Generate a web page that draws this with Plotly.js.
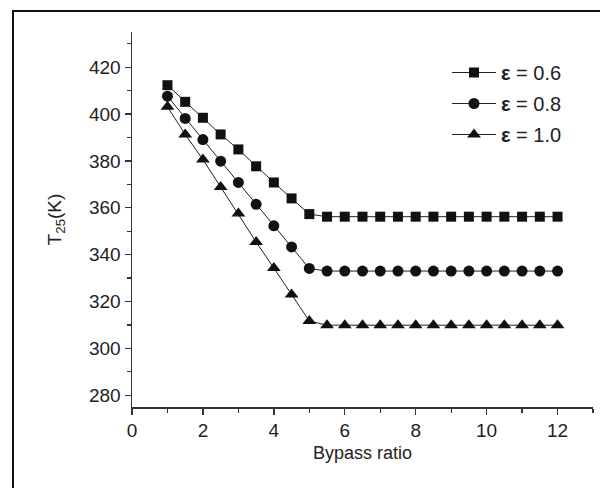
<!DOCTYPE html>
<html>
<head>
<meta charset="utf-8">
<script src="https://cdn.plot.ly/plotly-3.0.1.min.js"></script>
<style>html,body{margin:0;padding:0;background:#fff;overflow:hidden;}#chart{width:609px;height:488px;}</style>
</head>
<body>
<div id="chart"></div>
<script>
const bypassRatio = [1, 1.5, 2, 2.5, 3, 3.5, 4, 4.5, 5, 5.5, 6, 6.5, 7, 7.5, 8, 8.5, 9, 9.5, 10, 10.5, 11, 11.5, 12];
const t25_eps06 = [412.3, 405.2, 398.4, 391.3, 384.9, 377.7, 370.8, 364.0, 357.3, 356.2, 356.2, 356.2, 356.2, 356.2, 356.2, 356.2, 356.2, 356.2, 356.2, 356.2, 356.2, 356.2, 356.2];
const t25_eps08 = [407.6, 398.1, 389.1, 379.9, 370.8, 361.5, 352.3, 343.3, 334.1, 333.0, 333.0, 333.0, 333.0, 333.0, 333.0, 333.0, 333.0, 333.0, 333.0, 333.0, 333.0, 333.0, 333.0];
const t25_eps10 = [403.1, 391.3, 380.6, 368.9, 357.6, 345.4, 334.3, 323.0, 311.7, 309.9, 309.9, 309.9, 309.9, 309.9, 309.9, 309.9, 309.9, 309.9, 309.9, 309.9, 309.9, 309.9, 309.9];
const seriesNames = ['<b>ε</b> = 0.6', '<b>ε</b> = 0.8', '<b>ε</b> = 1.0'];
const xTicks = [0, 2, 4, 6, 8, 10, 12];
const yTicks = [280, 300, 320, 340, 360, 380, 400, 420];

const FONT = 'Liberation Sans, Arial, Helvetica, sans-serif';
const symbols = ['square', 'circle', 'triangle-up'];
const sizes = [10, 11, 12];
const ys = [t25_eps06, t25_eps08, t25_eps10];

const traces = ys.map((y, i) => ({
  x: bypassRatio, y: y, type: 'scatter', mode: 'lines+markers',
  name: seriesNames[i], legendgroup: 'g' + i,
  line: {color: '#222', width: 1},
  marker: {symbol: symbols[i], size: sizes[i], color: '#111'}
}));

const L = 132, R = 16, T = 32, B = 81, W = 609, H = 488;
const pw = W - L - R, ph = H - T - B;
const px = v => (v - L) / pw;
const py = v => (H - B - v) / ph;

const axisCommon = {
  showgrid: false, zeroline: false, showline: true, linecolor: '#333', linewidth: 1.5,
  ticks: 'outside', ticklen: 6, tickwidth: 1.3, tickcolor: '#333',
  tickfont: {family: FONT, size: 19, color: '#222'},
  minor: {ticks: 'outside', ticklen: 4, tickwidth: 1.3, tickcolor: '#333'}
};

const layout = {
  width: W, height: H,
  margin: {l: L, r: R, t: T, b: B},
  paper_bgcolor: '#fff', plot_bgcolor: '#fff',
  showlegend: true,
  font: {family: FONT, color: '#222'},
  xaxis: Object.assign({}, axisCommon, {
    range: [0, 13], tickvals: xTicks, ticktext: xTicks.map(String),
    minor: Object.assign({}, axisCommon.minor, {tickvals: [1, 3, 5, 7, 9, 11, 13]}),
    title: {text: 'Bypass ratio', font: {family: FONT, size: 18, color: '#222'}, standoff: 6}
  }),
  yaxis: Object.assign({}, axisCommon, {
    range: [275, 435], tickvals: yTicks, ticktext: yTicks.map(String),
    minor: Object.assign({}, axisCommon.minor, {tickvals: [290, 310, 330, 350, 370, 390, 410, 430]}),
    title: {text: 'T<sub>25</sub>(K)', font: {family: FONT, size: 19, color: '#222'}, standoff: 22}
  }),
  legend: {
    x: px(447), y: py(53), xanchor: 'left', yanchor: 'top',
    bgcolor: 'rgba(0,0,0,0)', font: {family: FONT, size: 20, color: '#222'},
    tracegroupgap: 2, itemwidth: 44
  },
  shapes: [
    {type: 'line', xref: 'paper', yref: 'paper', x0: px(13), x1: px(13), y0: py(10), y1: py(488), line: {color: '#111', width: 2}},
    {type: 'line', xref: 'paper', yref: 'paper', x0: px(12), x1: px(600), y0: py(11), y1: py(11), line: {color: '#111', width: 2}}
  ]
};

Plotly.newPlot('chart', traces, layout, {displayModeBar: false, staticPlot: true});
</script>
</body>
</html>
